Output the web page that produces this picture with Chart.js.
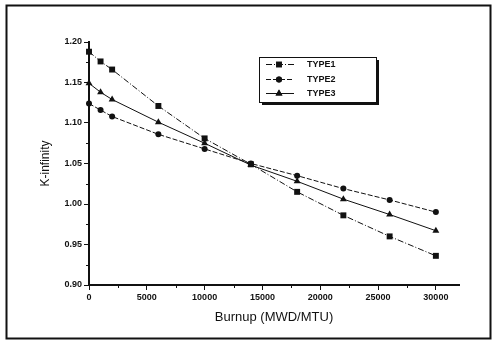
<!DOCTYPE html>
<html>
<head>
<meta charset="utf-8">
<script src="https://cdn.jsdelivr.net/npm/chart.js@4/dist/chart.umd.min.js"></script>
<style>
html,body{margin:0;padding:0;background:#fff;}
#wrap{width:497px;height:341px;}
</style>
</head>
<body>
<div id="wrap"><canvas id="c" width="497" height="341"></canvas></div>
<script>
const burnup = [0, 1000, 2000, 6000, 10000, 14000, 18000, 22000, 26000, 30000];
const type1 = [1.188, 1.176, 1.166, 1.121, 1.081, 1.049, 1.015, 0.986, 0.960, 0.936];
const type2 = [1.124, 1.116, 1.108, 1.086, 1.068, 1.050, 1.035, 1.019, 1.005, 0.990];
const type3 = [1.149, 1.138, 1.129, 1.101, 1.075, 1.048, 1.028, 1.006, 0.987, 0.967];
const seriesNames = ['TYPE1', 'TYPE2', 'TYPE3'];
const yTicks = [0.90, 0.95, 1.00, 1.05, 1.10, 1.15, 1.20];
const xTicks = [0, 5000, 10000, 15000, 20000, 25000, 30000];

const INK = '#111';
const tickFont = {family: 'Liberation Sans, Arial, sans-serif', size: 9, weight: 'bold'};

function pts(ys){ return burnup.map((x,i)=>({x:x, y:ys[i]})); }

const datasets = [
  {label: seriesNames[0], data: pts(type1), pointStyle: 'rect', pointRadius: 4.2, borderDash: [6,2,1,2]},
  {label: seriesNames[1], data: pts(type2), pointStyle: 'circle', pointRadius: 3, borderDash: [5,2]},
  {label: seriesNames[2], data: pts(type3), pointStyle: 'triangle', pointRadius: 4, borderDash: []}
].map(d => Object.assign({
  borderColor: INK, backgroundColor: INK, pointBackgroundColor: INK, pointBorderColor: INK,
  borderWidth: 1, pointBorderWidth: 0, tension: 0, showLine: true, clip: false
}, d));

const decor = {
  id: 'decor',
  beforeDraw(chart){
    const ctx = chart.ctx;
    ctx.save();
    ctx.fillStyle = '#fff';
    ctx.fillRect(0,0,chart.width,chart.height);
    ctx.strokeStyle = INK;
    ctx.lineWidth = 2;
    ctx.strokeRect(6.5, 5.5, 484, 333);
    ctx.restore();
  },
  afterDraw(chart){
    const ctx = chart.ctx;
    const xs = chart.scales.x, ys = chart.scales.y;
    ctx.save();
    ctx.strokeStyle = INK;
    ctx.lineWidth = 1;
    // minor ticks
    for (let v = 0.925; v < 1.2; v += 0.05) {
      const p = Math.round(ys.getPixelForValue(v)) + 0.5;
      ctx.beginPath(); ctx.moveTo(xs.left - 3, p); ctx.lineTo(xs.left, p); ctx.stroke();
    }
    for (let v = 2500; v < 32000; v += 5000) {
      const p = Math.round(xs.getPixelForValue(v)) + 0.5;
      ctx.beginPath(); ctx.moveTo(p, ys.bottom); ctx.lineTo(p, ys.bottom + 3); ctx.stroke();
    }
    // legend box
    const bx = 259, by = 57, bw = 117, bh = 45;
    ctx.fillStyle = INK;
    ctx.fillRect(bx + 3, by + bh, bw, 3);
    ctx.fillRect(bx + bw, by + 3, 3, bh);
    ctx.fillStyle = '#fff';
    ctx.fillRect(bx, by, bw, bh);
    ctx.lineWidth = 1;
    ctx.strokeRect(bx + 0.5, by + 0.5, bw, bh);
    const rows = [64, 79, 93];
    chart.data.datasets.forEach((d, i) => {
      const y = rows[i] + 0.5;
      ctx.save();
      ctx.setLineDash(d.borderDash || []);
      ctx.lineWidth = 1;
      ctx.beginPath(); ctx.moveTo(266, y); ctx.lineTo(294, y); ctx.stroke();
      ctx.restore();
      Chart.helpers.drawPoint(ctx, {pointStyle: d.pointStyle, radius: d.pointRadius, borderWidth: 0}, 279, y);
      ctx.fillStyle = INK;
      ctx.fill();
      ctx.font = 'bold 9px "Liberation Sans", Arial, sans-serif';
      ctx.textBaseline = 'middle';
      ctx.textAlign = 'left';
      ctx.fillText(d.label, 307, y);
    });
    ctx.restore();
  }
};

new Chart(document.getElementById('c'), {
  type: 'scatter',
  data: {datasets},
  options: {
    responsive: false,
    animation: false,
    layout: {padding: {top: 42, right: 38, left: 0, bottom: 0}},
    plugins: {legend: {display: false}, tooltip: {enabled: false}},
    scales: {
      x: {
        type: 'linear', min: 0, max: 32000,
        afterBuildTicks(s){ s.ticks = xTicks.map(v => ({value: v})); },
        afterFit(s){ s.height = 56; },
        border: {color: INK, width: 2},
        grid: {drawOnChartArea: false, color: INK, tickLength: 5, tickWidth: 1},
        ticks: {color: INK, font: tickFont, padding: 2, maxRotation: 0, callback: v => String(v)},
        title: {display: true, text: 'Burnup (MWD/MTU)', color: INK,
          font: {family: 'Liberation Sans, Arial, sans-serif', size: 13}, padding: {bottom: 16}}
      },
      y: {
        type: 'linear', min: 0.90, max: 1.20,
        afterBuildTicks(s){ s.ticks = yTicks.map(v => ({value: v})); },
        afterFit(s){ s.width = 89; },
        border: {color: INK, width: 2},
        grid: {drawOnChartArea: false, color: INK, tickLength: 5, tickWidth: 1},
        ticks: {color: INK, font: tickFont, padding: 2, callback: v => v.toFixed(2)},
        title: {display: true, text: 'K-infinity', color: INK,
          font: {family: 'Liberation Sans, Arial, sans-serif', size: 12}, padding: {top: 38}}
      }
    }
  },
  plugins: [decor]
});
</script>
</body>
</html>
